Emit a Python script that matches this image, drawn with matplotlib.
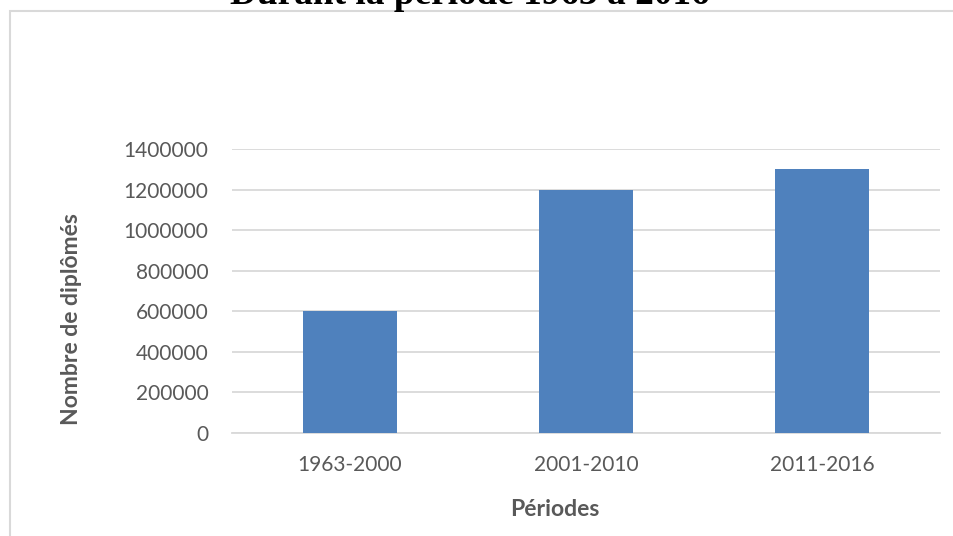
import matplotlib
matplotlib.use("Agg")
import matplotlib.pyplot as plt
from matplotlib.patches import Rectangle

# donnees
periodes = ["1963-2000", "2001-2010", "2011-2016"]
diplomes = [600000, 1200000, 1300000]
graduations = [0, 200000, 400000, 600000, 800000, 1000000, 1200000, 1400000]

W, H = 954, 536
fig = plt.figure(figsize=(W / 100, H / 100), dpi=100)
ax = fig.add_axes([232 / W, 1 - 433 / H, (940 - 232) / W, (433 - 149) / H])

gris = "#595959"
ax.bar(range(len(periodes)), diplomes, width=0.4, color="#4f81bd", zorder=3)

ax.set_xlim(-0.5, len(periodes) - 0.5)
ax.set_ylim(0, graduations[-1])
ax.set_yticks(graduations)
ax.set_yticklabels([str(v) for v in graduations])
ax.set_xticks(range(len(periodes)))
ax.set_xticklabels(periodes)
ax.grid(axis="y", color="#d9d9d9", linewidth=1.3, zorder=0)
for s in ["top", "right", "left"]:
    ax.spines[s].set_visible(False)
ax.spines["bottom"].set_color("#d9d9d9")
ax.spines["bottom"].set_linewidth(1.3)
ax.tick_params(axis="both", length=0, labelcolor=gris, labelsize=15)
ax.tick_params(axis="y", pad=17)
ax.tick_params(axis="x", pad=16)
for t in ax.get_xticklabels() + ax.get_yticklabels():
    t.set_fontfamily("Lato")

fig.text(555 / W, 1 - 510 / H, "Périodes", ha="center", va="center",
         fontsize=16.5, fontweight="bold", color=gris, family="Lato")
fig.text(71 / W, 1 - 319 / H, "Nombre de diplômés", ha="center", va="center",
         rotation=90, fontsize=16.5, fontweight="bold", color=gris, family="Lato")

# cadre du graphique
fig.patches.append(Rectangle((10 / W, -0.05), 1.05, 1 - 11 / H + 0.05,
                             transform=fig.transFigure, fill=False,
                             edgecolor="#d9d9d9", linewidth=1.5))

# titre (coupe en haut, comme dans l'original)
fig.text(470 / W, 1 - 4 / H, "Durant la période 1963 à 2016", ha="center",
         va="baseline", fontsize=26.8, fontweight="bold", color="black",
         family="Liberation Serif")

fig.savefig("out.png", dpi=100)
